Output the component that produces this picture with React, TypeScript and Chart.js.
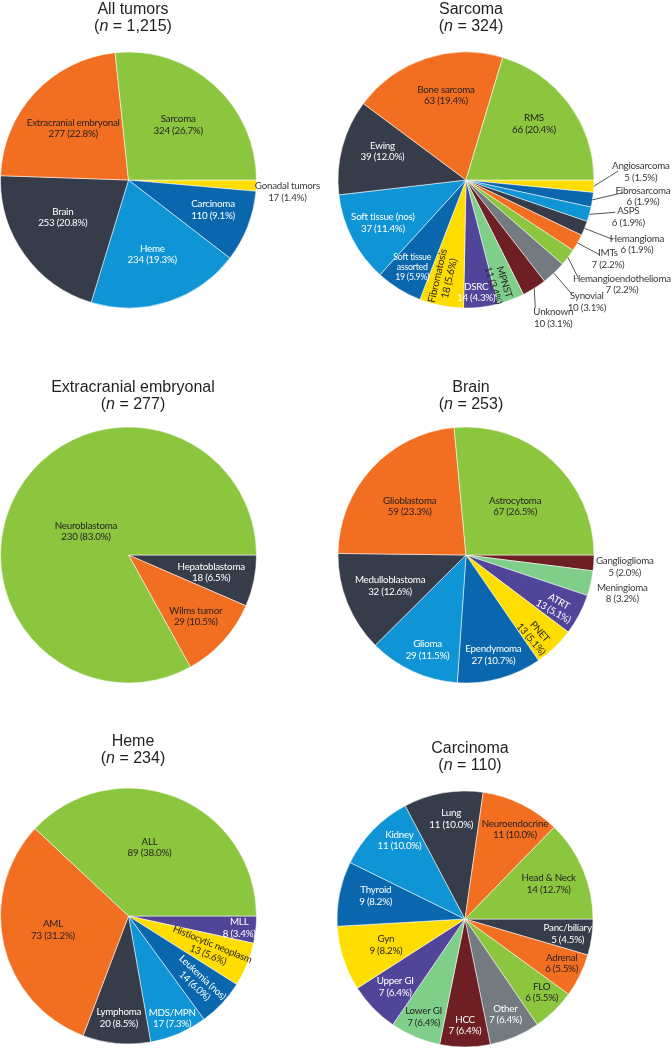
import React, { useEffect, useRef } from "react";
import { Chart, registerables } from "chart.js";
Chart.register(...registerables);

const GREEN = "#8cc63f";
const ORANGE = "#f26f21";
const DARK = "#363c4a";
const BLUE = "#0f95d6";
const NAVY = "#0b67ad";
const YELLOW = "#ffdd00";
const PURPLE = "#51459a";
const MINT = "#7fcf8b";
const MAROON = "#6e1f23";
const GRAY = "#737b81";
const PALETTE = [GREEN, ORANGE, DARK, BLUE, NAVY, YELLOW, PURPLE, MINT, MAROON, GRAY];

// ---- data ----
const allTumorsLabels = ["Sarcoma", "Extracranial embryonal", "Brain", "Heme", "Carcinoma", "Gonadal tumors"];
const allTumorsValues = [324, 277, 253, 234, 110, 17];

const sarcomaLabels = [
  "RMS", "Bone sarcoma", "Ewing", "Soft tissue (nos)", "Soft tissue\nassorted", "Fibromatosis", "DSRC", "MPNST",
  "Unknown", "Synovial", "Hemangioendothelioma", "IMTs", "Hemangioma", "ASPS", "Fibrosarcoma", "Angiosarcoma",
];
const sarcomaValues = [66, 63, 39, 37, 19, 18, 14, 11, 10, 10, 7, 7, 6, 6, 6, 5];

const extracranialLabels = ["Neuroblastoma", "Wilms tumor", "Hepatoblastoma"];
const extracranialValues = [230, 29, 18];

const brainLabels = ["Astrocytoma", "Glioblastoma", "Medulloblastoma", "Glioma", "Ependymoma", "PNET", "ATRT", "Meningioma", "Ganglioglioma"];
const brainValues = [67, 59, 32, 29, 27, 13, 13, 8, 5];

const hemeLabels = ["ALL", "AML", "Lymphoma", "MDS/MPN", "Leukemia (nos)", "Histiocytic neoplasm", "MLL"];
const hemeValues = [89, 73, 20, 17, 14, 13, 8];

const carcinomaLabels = [
  "Head & Neck", "Neuroendocrine", "Lung", "Kidney", "Thyroid", "Gyn", "Upper GI", "Lower GI", "HCC", "Other",
  "FLO", "Adrenal", "Panc/biliary",
];
const carcinomaValues = [14, 11, 11, 11, 9, 9, 7, 7, 7, 7, 6, 6, 5];

// ---- label placement (style only) ----
type Place = {
  f?: number; da?: number; rot?: boolean; c: "d" | "w" | "o"; size?: number;
  out?: [number, number]; line?: [number, number];
};

const allTumorsPlaces: Place[] = [
  { f: 0.58, c: "d" },
  { f: 0.59, c: "d" },
  { f: 0.59, da: -6, c: "w" },
  { f: 0.61, c: "w" },
  { f: 0.7, da: 2, c: "w" },
  { c: "o", out: [31, 0.5] },
];

const sarcomaPlaces: Place[] = [
  { f: 0.69, da: 3, c: "d" },
  { f: 0.68, da: -5, c: "d" },
  { f: 0.69, da: -4, c: "w" },
  { f: 0.73, c: "w" },
  { f: 0.8, c: "w", size: 8.8 },
  { f: 0.78, da: -2, rot: true, c: "d", size: 10.3 },
  { f: 0.88, da: -1.5, c: "w" },
  { f: 0.85, da: -3, rot: true, c: "d" },
  { c: "o", out: [19, 24], line: [-18, -4] },
  { c: "o", out: [33, 23], line: [-15, -2] },
  { c: "o", out: [54, 21], line: [-44, -1] },
  { c: "o", out: [30.5, 10], line: [-8, 2] },
  { c: "o", out: [52.5, 10], line: [-24, 1] },
  { c: "o", out: [39, -3], line: [-13, 1] },
  { c: "o", out: [50.5, -9], line: [-20, 2] },
  { c: "o", out: [47, -20], line: [-23, 5] },
];

const extracranialPlaces: Place[] = [
  { f: 0.38, da: 1.5, c: "d" },
  { f: 0.71, c: "d" },
  { f: 0.66, c: "w" },
];

const brainPlaces: Place[] = [
  { f: 0.54, da: -3, c: "d" },
  { f: 0.58, da: 2, c: "d" },
  { f: 0.64, c: "w" },
  { f: 0.8, da: 2.5, c: "w" },
  { f: 0.81, c: "w" },
  { f: 0.83, da: -3, rot: true, c: "d" },
  { f: 0.81, da: -2, rot: true, c: "w" },
  { c: "o", out: [31.5, 4] },
  { c: "o", out: [31, -2] },
];

const hemePlaces: Place[] = [
  { f: 0.56, da: 4.5, c: "d" },
  { f: 0.6, da: -2.6, c: "d" },
  { f: 0.8, c: "w" },
  { f: 0.87, c: "w" },
  { f: 0.75, rot: true, c: "w" },
  { f: 0.69, rot: true, c: "d" },
  { f: 0.87, c: "w" },
];

const carcinomaPlaces: Place[] = [
  { f: 0.71, c: "d" },
  { f: 0.8, da: -3, c: "d" },
  { f: 0.79, da: -2, c: "w" },
  { f: 0.8, da: -6, c: "w" },
  { f: 0.72, da: -3, c: "w" },
  { f: 0.65, c: "d" },
  { f: 0.76, c: "w" },
  { f: 0.83, c: "d" },
  { f: 0.83, c: "w" },
  { f: 0.81, c: "w" },
  { f: 0.83, da: 2, c: "d" },
  { f: 0.83, da: 1.6, c: "d" },
  { f: 0.81, c: "w" },
];

const TEXT_COLORS = { d: "#231f20", w: "#ffffff", o: "#3a3a3a" };
const LABEL_FONT = "Lato";
const R = 128;

function drawLabels(chart: any, labels: string[], values: number[], places: Place[]) {
  const ctx = chart.ctx as CanvasRenderingContext2D;
  const meta = chart.getDatasetMeta(0);
  const total = values.reduce((a, b) => a + b, 0);
  const n = values.length;
  meta.data.forEach((el: any, i: number) => {
    const k = n - 1 - i;
    const p = places[k];
    const { x, y, startAngle, endAngle, outerRadius } = el.getProps(
      ["x", "y", "startAngle", "endAngle", "outerRadius"], true);
    const baseMid = (startAngle + endAngle) / 2;
    const mid = baseMid - ((p.da || 0) * Math.PI) / 180;
    const lines = [...labels[k].split("\n"), `${values[k]} (${((values[k] / total) * 100).toFixed(1)}%)`];
    const fs = p.size || 9.8;
    const lh = fs * 1.17;
    ctx.save();
    ctx.font = `${fs}px ${LABEL_FONT}`;
    (ctx as any).letterSpacing = "-0.25px";
    ctx.fillStyle = TEXT_COLORS[p.c];
    ctx.textAlign = "center";
    ctx.textBaseline = "middle";
    if (p.out) {
      const ex = x + Math.cos(baseMid) * outerRadius;
      const ey = y + Math.sin(baseMid) * outerRadius;
      const ax = ex + p.out[0];
      const ay = ey + p.out[1];
      if (p.line) {
        ctx.beginPath();
        ctx.moveTo(ex, ey);
        ctx.lineTo(ax + p.line[0], ay + p.line[1]);
        ctx.strokeStyle = "#555555";
        ctx.lineWidth = 1;
        ctx.stroke();
      }
      lines.forEach((t, j) => ctx.fillText(t, ax, ay + j * lh));
    } else {
      const r = (p.f || 0.6) * outerRadius;
      const ax = x + Math.cos(mid) * r;
      const ay = y + Math.sin(mid) * r;
      ctx.translate(ax, ay);
      if (p.rot) {
        let a = mid;
        if (Math.cos(mid) < 0) a += Math.PI;
        ctx.rotate(a);
      }
      const y0 = -((lines.length - 1) * lh) / 2;
      lines.forEach((t, j) => ctx.fillText(t, 0, y0 + j * lh));
    }
    ctx.restore();
  });
}

type CellProps = {
  title: string; labels: string[]; values: number[]; places: Place[];
  left: number; top: number; width: number; height: number; cx: number; cy: number; titleY: number;
};

function PieCell(props: CellProps) {
  const ref = useRef<HTMLCanvasElement | null>(null);
  const { title, labels, values, places, left, top, width, height, cx, cy, titleY } = props;
  const total = values.reduce((a, b) => a + b, 0);

  useEffect(() => {
    if (!ref.current) return;
    const S = 2 * R + 2;
    const colors = values.map((_, i) => PALETTE[i % PALETTE.length]);
    const chart = new Chart(ref.current, {
      type: "pie",
      data: {
        labels: [...labels].reverse(),
        datasets: [{
          data: [...values].reverse(),
          backgroundColor: [...colors].reverse(),
          borderColor: "rgba(255,255,255,0.75)",
          borderWidth: 0.7,
        }],
      },
      options: {
        responsive: false,
        animation: false,
        rotation: 90,
        radius: R,
        events: [],
        layout: {
          padding: {
            left: cx - S / 2,
            top: cy - S / 2,
            right: width - cx - S / 2,
            bottom: height - cy - S / 2,
          },
        },
        plugins: {
          legend: { display: false },
          tooltip: { enabled: false },
          title: { display: false },
        },
      } as any,
      plugins: [{
        id: "sliceLabels",
        afterDatasetsDraw: (c: any) => drawLabels(c, labels, values, places),
      }],
    });
    return () => chart.destroy();
  }, []);

  return (
    <div style={{ position: "absolute", left, top, width, height }}>
      <canvas ref={ref} width={width} height={height}
        style={{ position: "absolute", left: 0, top: 0, width, height }} />
      <div style={{
        position: "absolute", left: cx + 5 - 150, width: 300, top: titleY - 8.3 - top,
        textAlign: "center", fontFamily: "'Liberation Sans', Arial, sans-serif", fontSize: 16,
        lineHeight: "17px", color: "#231f20",
      }}>
        <div>{title}</div>
        <div>(<i>n</i> = {total.toLocaleString("en-US")})</div>
      </div>
    </div>
  );
}

export default function App() {
  return (
    <div style={{ position: "absolute", left: 0, top: 0, width: 672, height: 1050, background: "#fff", overflow: "hidden" }}>
      <PieCell title="All tumors" labels={allTumorsLabels} values={allTumorsValues} places={allTumorsPlaces}
        left={0} top={0} width={336} height={345} cx={128} cy={180} titleY={8} />
      <PieCell title="Sarcoma" labels={sarcomaLabels} values={sarcomaValues} places={sarcomaPlaces}
        left={336} top={0} width={336} height={345} cx={130} cy={180} titleY={8} />
      <PieCell title="Extracranial embryonal" labels={extracranialLabels} values={extracranialValues} places={extracranialPlaces}
        left={0} top={345} width={336} height={345} cx={128} cy={210} titleY={386} />
      <PieCell title="Brain" labels={brainLabels} values={brainValues} places={brainPlaces}
        left={336} top={345} width={336} height={345} cx={130} cy={210} titleY={386} />
      <PieCell title="Heme" labels={hemeLabels} values={hemeValues} places={hemePlaces}
        left={0} top={690} width={336} height={360} cx={128} cy={226} titleY={740.5} />
      <PieCell title="Carcinoma" labels={carcinomaLabels} values={carcinomaValues} places={carcinomaPlaces}
        left={336} top={690} width={336} height={360} cx={129} cy={229} titleY={747} />
    </div>
  );
}
